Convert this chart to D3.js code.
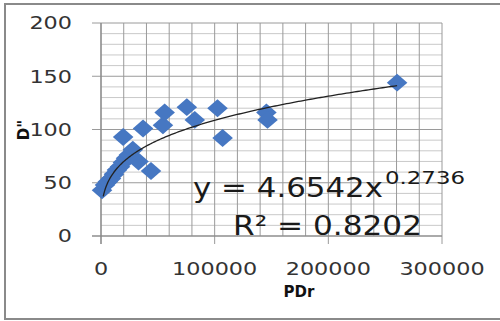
<!DOCTYPE html>
<html>
<head>
<meta charset="utf-8">
<script src="https://cdn.jsdelivr.net/npm/d3@7"></script>
<style>
  html, body { margin: 0; padding: 0; background: #fff; }
  svg { display: block; }
</style>
</head>
<body>
<div id="chart"></div>
<script>
// ── Scatter: D'' vs PDr with power trendline ─────
const pdr   = [900, 3500, 6000, 8800, 11400, 14000, 16700, 19300, 22000, 24500, 28000,
               33000, 44000, 19500, 37000, 54500, 56000, 75500, 82500, 102500, 107000,
               145500, 146500, 260500];
const dVals = [43, 48, 51, 54, 58, 62, 65, 69, 73, 76, 81,
               70, 61, 93, 101, 104, 116, 121, 109, 120, 92,
               116, 109, 144];
const xTicks = [0, 100000, 200000, 300000];
const yTicks = [0, 50, 100, 150, 200];
const fitA = 4.6542, fitB = 0.2736;
const fitMinX = 2000;

const width = 500, height = 321;
const svg = d3.select("#chart").append("svg")
    .attr("width", width).attr("height", height);

// Outer frame
svg.append("rect").attr("x", 5).attr("y", 4).attr("width", 500).attr("height", 315)
    .attr("fill", "#fff").attr("stroke", "#8a8a8a").attr("stroke-width", 2);

const x = d3.scaleLinear().domain([0, 300000]).range([101, 442]);
const y = d3.scaleLinear().domain([0, 200]).range([236, 23]);

// Gridlines
const g = svg.append("g");
d3.range(0, 201, 10).forEach(v => {
    const major = v % 50 === 0;
    g.append("line").attr("x1", major ? 92 : 101).attr("x2", 442)
        .attr("y1", y(v)).attr("y2", y(v))
        .attr("stroke", major ? "#9a9a9a" : "#c9c9c9").attr("stroke-width", 1);
});
d3.range(0, 300001, 20000).forEach(v => {
    const major = v % 100000 === 0;
    g.append("line").attr("x1", x(v)).attr("x2", x(v))
        .attr("y1", y(200)).attr("y2", major ? 244 : 236)
        .attr("stroke", "#9a9a9a").attr("stroke-width", 1);
});
// axes lines
g.append("line").attr("x1", x(0)).attr("x2", x(0)).attr("y1", y(200)).attr("y2", 244)
    .attr("stroke", "#888").attr("stroke-width", 1.2);
g.append("line").attr("x1", 92).attr("x2", 442).attr("y1", y(0)).attr("y2", y(0))
    .attr("stroke", "#888").attr("stroke-width", 1.2);

// Tick labels
const charW = 14.2;
svg.selectAll(".ylab").data(yTicks).enter().append("text")
    .attr("x", 72).attr("y", d => y(d)).attr("dy", "0.36em")
    .attr("text-anchor", "end")
    .style("font-family", "DejaVu Sans").style("font-size", "18px").style("fill", "#333")
    .attr("textLength", d => String(d).length * charW).attr("lengthAdjust", "spacingAndGlyphs")
    .text(d => d);
svg.selectAll(".xlab").data(xTicks).enter().append("text")
    .attr("x", d => x(d)).attr("y", 275)
    .attr("text-anchor", "middle")
    .style("font-family", "DejaVu Sans").style("font-size", "18px").style("fill", "#333")
    .attr("textLength", d => String(d).length * charW).attr("lengthAdjust", "spacingAndGlyphs")
    .text(d => d);

// Axis titles
svg.append("text").attr("x", 299).attr("y", 297).attr("text-anchor", "middle")
    .style("font-family", "DejaVu Sans").style("font-size", "15px").style("font-weight", "bold")
    .style("fill", "#111").text("PDr");
svg.append("text").attr("transform", "translate(29,130) rotate(-90)")
    .attr("text-anchor", "middle")
    .style("font-family", "DejaVu Sans").style("font-size", "15px").style("font-weight", "bold")
    .style("fill", "#111").text("D\"");

// Points
svg.append("g").selectAll("path").data(pdr).enter().append("path")
    .attr("d", d3.symbol(d3.symbolSquare, 160))
    .attr("transform", (d, i) => `translate(${x(d)},${y(dVals[i])}) scale(1.15,1) rotate(45)`)
    .attr("fill", "#4677c2");

// Power trendline
const maxX = d3.max(pdr);
const curve = d3.range(0, 201).map(i => {
    const xv = fitMinX + (maxX - fitMinX) * Math.pow(i / 200, 2);
    return [xv, fitA * Math.pow(xv, fitB)];
});
svg.append("path").datum(curve)
    .attr("fill", "none").attr("stroke", "#222").attr("stroke-width", 1.3)
    .attr("d", d3.line().x(d => x(d[0])).y(d => y(d[1])));

// Equation labels
svg.append("text").attr("x", 193).attr("y", 197)
    .style("font-family", "DejaVu Sans").style("font-size", "26px").style("fill", "#1a1a1a")
    .attr("textLength", 190).attr("lengthAdjust", "spacingAndGlyphs")
    .text("y = 4.6542x");
svg.append("text").attr("x", 385).attr("y", 184)
    .style("font-family", "DejaVu Sans").style("font-size", "17px").style("fill", "#1a1a1a")
    .attr("textLength", 80).attr("lengthAdjust", "spacingAndGlyphs")
    .text("0.2736");
svg.append("text").attr("x", 233).attr("y", 235)
    .style("font-family", "DejaVu Sans").style("font-size", "26px").style("fill", "#1a1a1a")
    .attr("textLength", 189).attr("lengthAdjust", "spacingAndGlyphs")
    .text("R² = 0.8202");
</script>
</body>
</html>
